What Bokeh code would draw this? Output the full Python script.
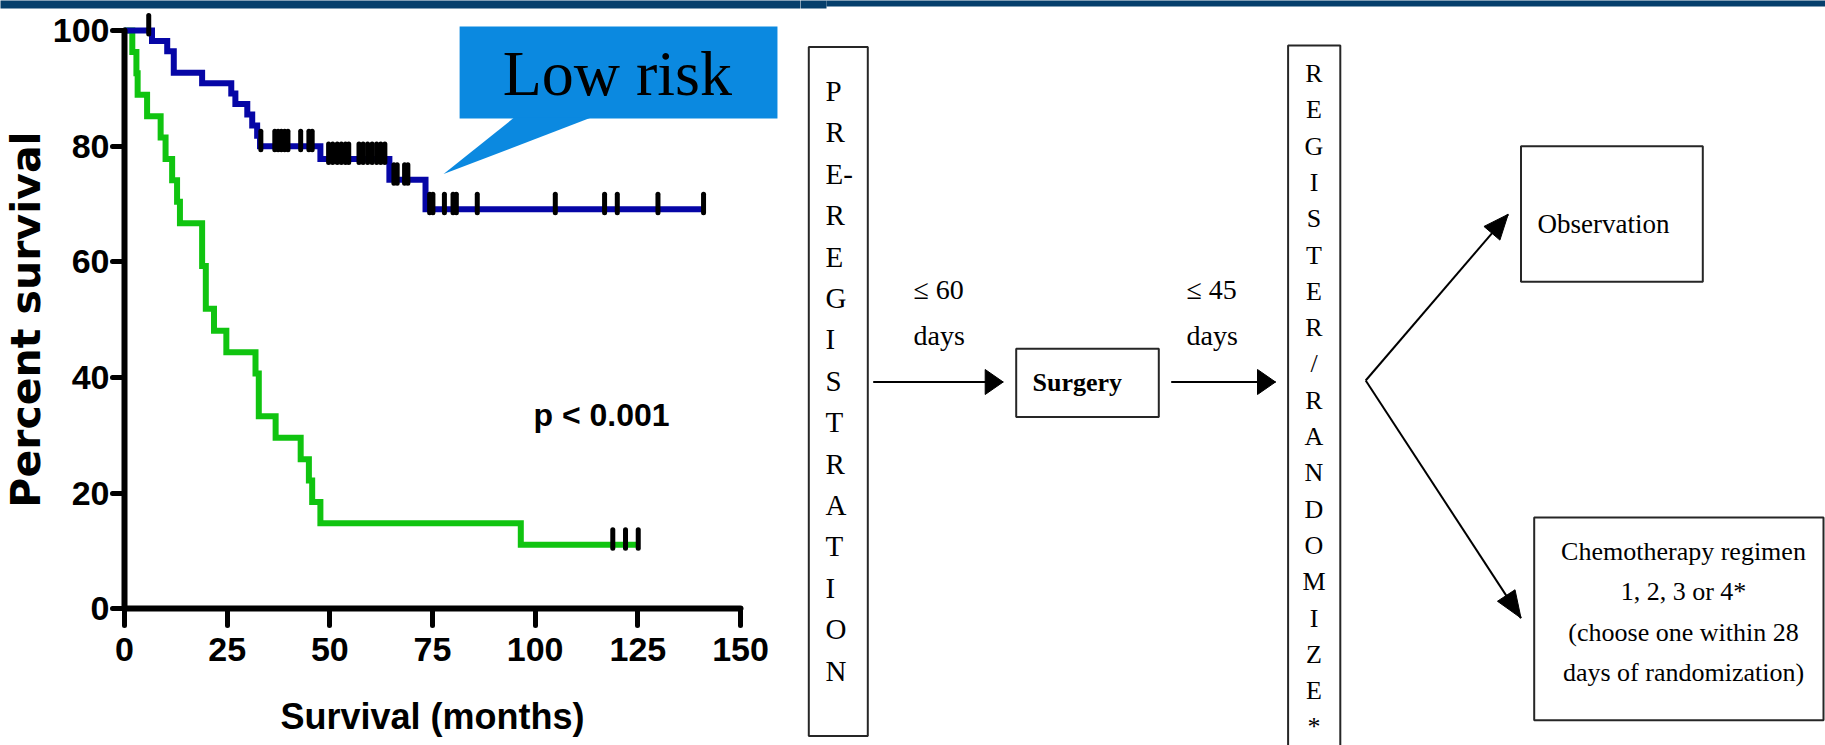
import numpy as np
from bokeh.plotting import figure
from bokeh.models import Range1d, LinearAxis, FixedTicker
from bokeh.layouts import row
from bokeh.embed import file_html
from bokeh.resources import INLINE
from bokeh.core.properties import value

# ---------------------------------------------------------------------------
# Kaplan-Meier estimates: months of follow-up and percent surviving
# ---------------------------------------------------------------------------
low_risk_months = [0, 6.7, 10.4, 12.0, 18.9, 26.0, 27.0, 29.9, 31.1, 32.3, 33.0,
                   47.7, 64.5, 73.3, 141.0]
low_risk_survival = [100, 98.2, 96.4, 92.7, 90.9, 89.1, 87.3, 85.5, 83.6, 81.8, 80.0,
                     77.8, 74.2, 69.1, 69.1]
low_risk_censored = [5.9, 33.2, 36.6, 37.4, 38.2, 39.0, 39.8, 42.9, 44.9, 45.7,
                     49.7, 50.7, 51.8, 52.8, 53.8, 54.6, 57.1, 58.1, 59.2, 60.3,
                     61.4, 62.4, 63.4, 65.6, 66.4, 68.2, 69.0, 74.3, 75.1, 77.9,
                     80.0, 80.8, 85.9, 104.9, 116.9, 120.0, 129.9, 141.0]

high_risk_months = [0, 1.9, 2.9, 3.2, 5.5, 8.8, 10.0, 11.6, 12.8, 13.5, 18.9, 19.8,
                    21.8, 24.8, 31.9, 32.7, 36.8, 42.9, 44.9, 45.7, 47.7, 96.5, 125.1]
high_risk_survival = [100, 96.3, 92.6, 88.9, 85.2, 81.5, 77.8, 74.1, 70.4, 66.7, 59.3,
                      51.9, 48.1, 44.4, 40.7, 33.3, 29.6, 25.9, 22.2, 18.5, 14.8, 11.1, 11.1]
high_risk_censored = [118.9, 122.0, 125.1]

x_ticks = [0, 25, 50, 75, 100, 125, 150]
y_ticks = [0, 20, 40, 60, 80, 100]

callout_text = "Low risk"
pvalue_text = "p < 0.001"

# ---------------------------------------------------------------------------
# Trial schema texts
# ---------------------------------------------------------------------------
prereg_letters = ["P", "R", "E-", "R", "E", "G", "I", "S", "T", "R", "A", "T", "I", "O", "N"]
register_letters = ["R", "E", "G", "I", "S", "T", "E", "R", "/", "R", "A", "N", "D",
                    "O", "M", "I", "Z", "E", "*"]
interval_texts = [["\u2264 60", "days"], ["\u2264 45", "days"]]
surgery_text = "Surgery"
observation_text = "Observation"
chemo_lines = ["Chemotherapy regimen", "1, 2, 3 or 4*", "(choose one within 28",
               "days of randomization)"]

# ---------------------------------------------------------------------------
# Styling
# ---------------------------------------------------------------------------
BAR = "#063f6c"
BLUE = "#0606a6"
GREEN = "#10c410"
CALLOUT = "#0b89e0"
SANS = "Liberation Sans"
SERIF = "Liberation Serif"

LEFT_W = 800          # width of the survival panel in pixels
TOTAL_W, TOTAL_H = 1825, 745
BAR_STEP = 826        # header strip gets thinner right of this x


def censor_levels(months, survival, censored):
    idx = np.searchsorted(np.asarray(months), np.asarray(censored), side="right") - 1
    return np.asarray(survival)[idx]


# ---------------------------------------------------------------------------
# Survival plot
# ---------------------------------------------------------------------------
x_lo, x_hi = -30.195, (LEFT_W - 124) / 4.1067
y_lo, y_hi = -23.60, 105.19
km = figure(width=LEFT_W, height=TOTAL_H,
            x_range=Range1d(x_lo, x_hi), y_range=Range1d(y_lo, y_hi),
            min_border=0, output_backend="svg", toolbar_location=None,
            x_axis_location=None, y_axis_location=None)
km.outline_line_color = None
km.grid.visible = False
km.background_fill_color = "white"
km.border_fill_color = "white"

# header strip (runs past the frame edges so the two panels join cleanly)
km.quad(left=x_lo - 5, right=x_hi + 5, top=y_hi + 2, bottom=103.8, fill_color=BAR,
        line_color=None)

xaxis = LinearAxis(fixed_location=0, bounds=(0, 150), ticker=FixedTicker(ticks=x_ticks))
yaxis = LinearAxis(fixed_location=0, bounds=(0, 100), ticker=FixedTicker(ticks=y_ticks))
for ax in (xaxis, yaxis):
    ax.axis_line_width = 6
    ax.axis_line_color = "black"
    ax.axis_line_cap = "round"
    ax.major_tick_line_width = 5
    ax.major_tick_line_color = "black"
    ax.major_tick_line_cap = "round"
    ax.major_tick_in = 0
    ax.minor_tick_in = 0
    ax.minor_tick_out = 0
    ax.major_label_text_font = SANS
    ax.major_label_text_font_style = "bold"
    ax.major_label_text_font_size = "34px"
    ax.major_label_text_color = "black"
    ax.axis_label_text_font_style = "bold"
    ax.axis_label_text_color = "black"
xaxis.major_tick_out = 17
xaxis.major_label_standoff = 12
xaxis.axis_label = "Survival (months)"
xaxis.axis_label_text_font = SANS
xaxis.axis_label_text_font_size = "36px"
xaxis.axis_label_standoff = 32
yaxis.major_tick_out = 12
yaxis.major_label_standoff = 3
yaxis.axis_label = "Percent survival"
yaxis.axis_label_text_font = "DejaVu Sans"
yaxis.axis_label_text_font_size = "41px"
yaxis.axis_label_standoff = 0
km.add_layout(xaxis, "below")
km.add_layout(yaxis, "left")

km.step(high_risk_months, high_risk_survival, mode="after", line_color=GREEN,
        line_width=6, line_join="miter")
km.step(low_risk_months, low_risk_survival, mode="after", line_color=BLUE,
        line_width=6, line_join="miter")

for months, survival, censored in ((low_risk_months, low_risk_survival, low_risk_censored),
                                   (high_risk_months, high_risk_survival, high_risk_censored)):
    lev = censor_levels(months, survival, censored)
    km.segment(x0=censored, x1=censored, y0=lev - 0.6, y1=lev + 2.6,
               line_color="black", line_width=5, line_cap="round")

# callout balloon naming the upper curve
km.quad(left=81.6, right=159.0, top=100.7, bottom=84.8, fill_color=CALLOUT, line_color=None)
km.patch(x=[94.8, 113.5, 77.7], y=[84.9, 84.9, 75.2], fill_color=CALLOUT, line_color=None)
km.text(x=[120.0], y=[92.6], text=[callout_text], text_align="center",
        text_baseline="middle", text_font=value(SERIF), text_font_size="64px",
        text_color="black")

km.text(x=[99.6], y=[33.6], text=[pvalue_text], text_align="left",
        text_baseline="middle", text_font=value(SANS), text_font_style="bold",
        text_font_size="32px", text_color="black")

# ---------------------------------------------------------------------------
# Trial schema (screen-pixel coordinates, y downward)
# ---------------------------------------------------------------------------
fc = figure(width=TOTAL_W - LEFT_W, height=TOTAL_H,
            x_range=Range1d(LEFT_W, TOTAL_W), y_range=Range1d(TOTAL_H, 0),
            min_border=0, output_backend="svg", toolbar_location=None,
            x_axis_location=None, y_axis_location=None)
fc.outline_line_color = None
fc.grid.visible = False
fc.background_fill_color = "white"
fc.border_fill_color = "white"
fc.quad(left=[LEFT_W - 5, BAR_STEP], right=[BAR_STEP, TOTAL_W + 5], top=[-2, -2],
        bottom=[8, 6], fill_color=BAR, line_color=None)

box_left = [808.3, 1015.7, 1287.6, 1520.5, 1533.7]
box_right = [867.3, 1158.3, 1339.8, 1702.3, 1823.0]
box_top = [46.5, 348.2, 45.1, 145.8, 516.9]
box_bottom = [735.4, 416.6, 760.0, 281.2, 719.7]
fc.quad(left=box_left, right=box_right, top=box_top, bottom=box_bottom,
        fill_color=None, line_color="#262626", line_width=2)

arrow_x0 = [872.7, 1170.7, 1365.2, 1365.2]
arrow_y0 = [381.5, 381.5, 380.0, 380.0]
arrow_x1 = [1002.7, 1275.0, 1507.7, 1520.5]
arrow_y1 = [381.5, 381.5, 213.8, 617.6]
head_len = [18, 18, 25, 27]
head_wid = [25, 25, 21, 21]
fc.segment(x0=arrow_x0, y0=arrow_y0, x1=arrow_x1, y1=arrow_y1, line_color="black",
           line_width=2)
hx, hy = [], []
for x0, y0, x1, y1, hl, hw in zip(arrow_x0, arrow_y0, arrow_x1, arrow_y1, head_len, head_wid):
    dx, dy = x1 - x0, y1 - y0
    d = np.hypot(dx, dy)
    ux, uy = dx / d, dy / d
    bx, by = x1 - ux * hl, y1 - uy * hl
    nx, ny = -uy * hw / 2, ux * hw / 2
    hx.append([x1, bx + nx, bx - nx])
    hy.append([y1, by + ny, by - ny])
fc.patches(xs=hx, ys=hy, fill_color="black", line_color="black", line_width=1)

serif = dict(text_font=value(SERIF), text_color="black", text_baseline="middle")

n = len(prereg_letters)
fc.text(x=[825.0] * n, y=list(90.5 + 41.4 * np.arange(n)), text=prereg_letters,
        text_align="left", text_font_size="29px", **serif)
n = len(register_letters)
fc.text(x=[1313.5] * n, y=list(73.0 + 36.3 * np.arange(n)), text=register_letters,
        text_align="center", text_font_size="26px", **serif)

for (top, bottom), x in zip(interval_texts, [913.0, 1186.0]):
    fc.text(x=[x, x], y=[289.0, 335.0], text=[top, bottom], text_align="left",
            text_font_size="28px", **serif)

fc.text(x=[1032.0], y=[382.4], text=[surgery_text], text_align="left",
        text_font_size="26px", text_font_style="bold", **serif)
fc.text(x=[1537.0], y=[223.0], text=[observation_text], text_align="left",
        text_font_size="27px", **serif)
fc.text(x=[1683.0] * len(chemo_lines), y=list(551.0 + 40.4 * np.arange(len(chemo_lines))),
        text=chemo_lines, text_align="center", text_font_size="26px", **serif)

layout = row(km, fc, spacing=0)
open("out.html", "w").write(file_html(layout, INLINE))
